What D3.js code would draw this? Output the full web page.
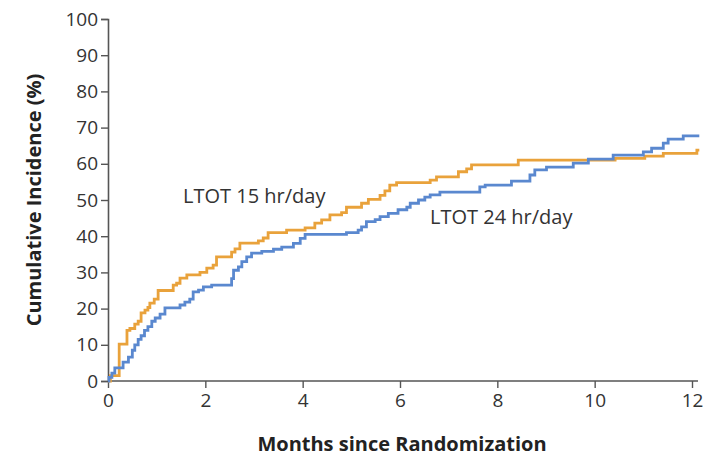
<!DOCTYPE html>
<html>
<head>
<meta charset="utf-8">
<script src="https://cdn.jsdelivr.net/npm/d3@7/dist/d3.min.js"></script>
<style>
  html, body { margin: 0; padding: 0; background: #fff; }
  svg { display: block; }
</style>
</head>
<body>
<svg id="chart" width="704" height="457"></svg>
<script>
// Cumulative incidence (%) by months since randomization, Kaplan–Meier style steps
const months15 = [0, 0.05, 0.23, 0.39, 0.45, 0.55, 0.62, 0.68, 0.76, 0.82, 0.86, 0.95, 1.03, 1.34, 1.41, 1.48, 1.62, 1.89, 2.03, 2.16, 2.23, 2.54, 2.61, 2.71, 3.09, 3.19, 3.29, 3.67, 4.05, 4.25, 4.39, 4.56, 4.80, 4.90, 5.21, 5.35, 5.59, 5.69, 5.79, 5.93, 6.62, 6.75, 7.20, 7.37, 7.47, 8.43, 10.42, 11.03, 11.41, 12.10, 12.15];
const incidence15 = [0, 1.5, 10.2, 14.0, 14.5, 15.7, 16.5, 18.8, 19.6, 20.3, 21.5, 22.6, 25.0, 26.5, 27.0, 28.4, 29.3, 30.0, 31.2, 32.0, 34.3, 35.6, 36.5, 38.1, 38.7, 39.5, 41.0, 41.7, 42.3, 43.6, 44.5, 45.9, 46.5, 48.0, 49.1, 50.2, 51.3, 52.5, 54.1, 54.8, 55.5, 56.4, 57.8, 58.6, 59.7, 61.0, 61.5, 62.1, 62.9, 63.8, 63.8];

const months24 = [0, 0.02, 0.08, 0.14, 0.31, 0.42, 0.50, 0.55, 0.62, 0.68, 0.75, 0.82, 0.90, 0.97, 1.07, 1.17, 1.48, 1.58, 1.68, 1.75, 1.86, 1.96, 2.13, 2.54, 2.58, 2.68, 2.75, 2.85, 2.95, 3.16, 3.40, 3.57, 3.81, 3.95, 4.05, 4.90, 5.14, 5.21, 5.31, 5.49, 5.59, 5.76, 5.96, 6.14, 6.21, 6.38, 6.51, 6.62, 6.82, 7.64, 7.75, 8.29, 8.67, 8.77, 9.01, 9.56, 9.87, 10.38, 11.00, 11.17, 11.41, 11.51, 11.82, 12.15];
const incidence24 = [0, 1.0, 2.2, 3.6, 5.2, 6.6, 8.5, 10.0, 11.5, 12.5, 14.0, 15.0, 16.5, 17.4, 18.5, 20.2, 21.0, 21.8, 22.6, 24.6, 25.1, 26.0, 26.5, 28.3, 30.6, 31.5, 33.0, 34.3, 35.3, 35.8, 36.4, 37.0, 38.0, 39.4, 40.5, 41.0, 41.7, 42.6, 44.0, 44.6, 45.4, 46.3, 47.3, 48.0, 49.1, 50.0, 50.8, 51.4, 52.2, 53.6, 54.1, 55.2, 56.9, 58.3, 59.1, 60.2, 61.3, 62.4, 63.3, 64.3, 65.7, 66.8, 67.7, 67.7];

const xTicks = [0, 2, 4, 6, 8, 10, 12];
const yTicks = [0, 10, 20, 30, 40, 50, 60, 70, 80, 90, 100];

const seriesNames = ["LTOT 15 hr/day", "LTOT 24 hr/day"];
const seriesColors = ["#E9A23B", "#5A88CF"];

const svg = d3.select("#chart");

const x = d3.scaleLinear().domain([0, 12]).range([108, 692]);
const y = d3.scaleLinear().domain([0, 100]).range([381, 19]);

const fontFam = "'Open Sans', 'Noto Sans', sans-serif";
const axisColor = "#555";

// x axis
const xAxis = svg.append("g")
  .attr("transform", `translate(0,${y(0)})`)
  .call(d3.axisBottom(x).tickValues(xTicks).tickSize(7).tickPadding(6).tickFormat(d3.format("d")));
xAxis.select(".domain").attr("d", `M${x(0)},0H${x(12) + 6}`);

// y axis
const yAxis = svg.append("g")
  .attr("transform", `translate(${x(0)},0)`)
  .call(d3.axisLeft(y).tickValues(yTicks).tickSize(7).tickPadding(3).tickFormat(d3.format("d")));

[xAxis, yAxis].forEach(g => {
  g.selectAll(".domain").attr("stroke", axisColor).attr("stroke-width", 1.6);
  g.selectAll(".tick line").attr("stroke", axisColor).attr("stroke-width", 1.4);
  g.selectAll(".tick text")
    .attr("fill", "#333")
    .style("font-family", fontFam)
    .style("font-size", "19px");
});

// step lines
const line = d3.line()
  .x(d => x(d[0]))
  .y(d => y(d[1]))
  .curve(d3.curveStepAfter);

const data = [
  d3.zip(months15, incidence15),
  d3.zip(months24, incidence24)
];

svg.append("g").selectAll("path")
  .data(data)
  .join("path")
  .attr("d", line)
  .attr("fill", "none")
  .attr("stroke", (d, i) => seriesColors[i])
  .attr("stroke-width", 2.8)
  .attr("stroke-linejoin", "miter");

// series labels
svg.append("text")
  .attr("x", 183).attr("y", 203)
  .attr("fill", "#333")
  .style("font-family", fontFam).style("font-size", "20px")
  .text(seriesNames[0]);

svg.append("text")
  .attr("x", 430).attr("y", 224)
  .attr("fill", "#333")
  .style("font-family", fontFam).style("font-size", "20px")
  .text(seriesNames[1]);

// axis titles
svg.append("text")
  .attr("x", 402).attr("y", 451)
  .attr("text-anchor", "middle")
  .attr("fill", "#222")
  .style("font-family", fontFam).style("font-size", "20px").style("font-weight", "bold")
  .text("Months since Randomization");

svg.append("text")
  .attr("transform", `translate(41,${(y(0) + y(100)) / 2}) rotate(-90)`)
  .attr("text-anchor", "middle")
  .attr("fill", "#222")
  .style("font-family", fontFam).style("font-size", "20px").style("font-weight", "bold")
  .text("Cumulative Incidence (%)");
</script>
</body>
</html>
